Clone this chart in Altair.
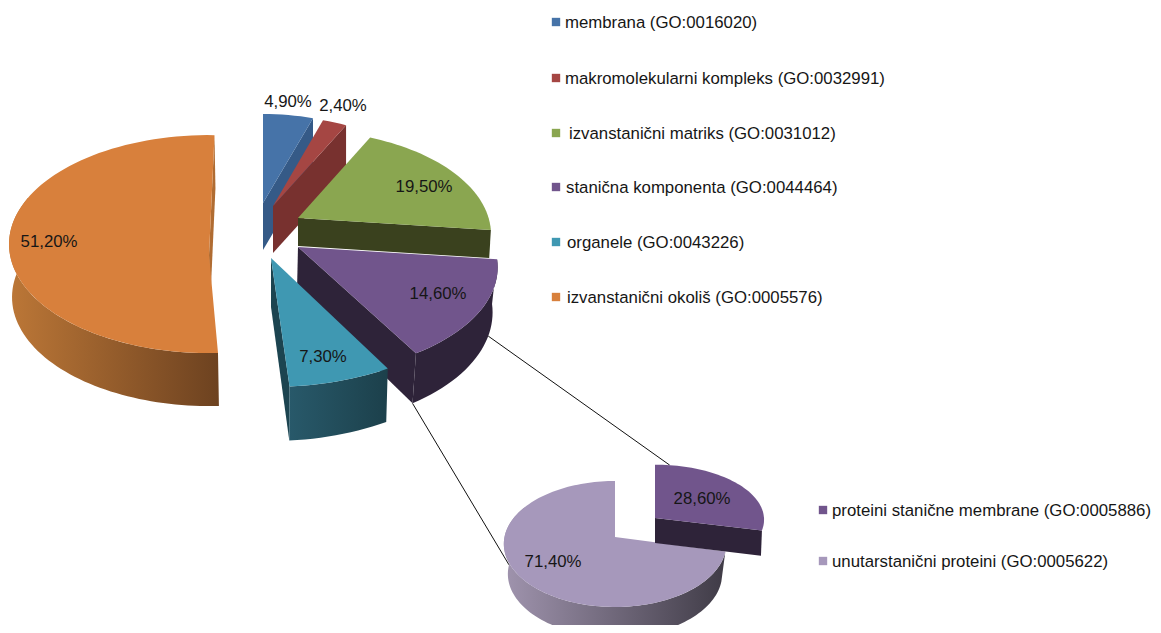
import math
import altair as alt

# ---- data
main_categories = ["membrana (GO:0016020)", "makromolekularni kompleks (GO:0032991)",
                   "izvanstanični matriks (GO:0031012)", "stanična komponenta (GO:0044464)",
                   "organele (GO:0043226)", "izvanstanični okoliš (GO:0005576)"]
main_values = [4.9, 2.4, 19.5, 14.6, 7.3, 51.2]
main_labels = ["4,90%", "2,40%", "19,50%", "14,60%", "7,30%", "51,20%"]
sub_categories = ["proteini stanične membrane (GO:0005886)", "unutarstanični proteini (GO:0005622)"]
sub_values = [28.6, 71.4]
sub_labels = ["28,60%", "71,40%"]

# ---- styles
top_colors = ["#4673a8", "#a54643", "#8aa650", "#71558c", "#3f98b2", "#d8803c"]
face_colors = ["#355a87", "#78312f", "#3a411e", "#2e2339", "#1c4450", "#b06c32"]
wall_colors = [None, None, None, ("#2e2339", "#2e2339"), ("#28596a", "#1c404b"), ("#bc7737", "#6d4220")]
sub_top = ["#71558c", "#a698bb"]
sub_face = ["#2e2339", None]
sub_wall = [None, ("#a094ae", "#3f3b46")]

# ---- 3D layout: apex x, apex y, x radius, y radius, perspective
main_geo = [
    ((263, 203, 165, 89, 0), (263, 250, 165, 89, 0)),
    ((273, 206, 165, 90, 0), (273, 253, 165, 90, 0)),
    ((298, 218, 190.6, 105, .162), (298, 246, 189, 105, .162)),
    ((298, 247, 196, 106, .198), (297, 291, 192, 112, .198)),
    ((271, 258, 227, 129, 0), (271, 307, 224, 134, 0)),
    ((209, 255, 199, 109, -.1), (210, 308, 197, 109, -.1)),
]
main_turn = [0, 0, 0, 0, 0, 1.8]
sub_geo = [
    ((655, 518, 109, 55, .03), (655, 543, 108, 56, .03)),
    ((615, 537, 110.5, 63, .111), (615, 567, 106.5, 63, .111)),
]
sub_turn = [0, 0]
WALL_LIMIT = 300
main_label_xy = [(288, 102), (343, 106), (424, 187), (438, 294), (323, 357), (49, 242)]
sub_label_xy = [(702, 499), (553, 562)]
main_legend_xy = [(556, 22, 565), (556, 78, 565), (556, 133, 569), (556, 187, 566), (556, 242, 567), (556, 297, 567)]
sub_legend_xy = [(823, 510, 832), (823, 561, 832)]
FONT = "Liberation Sans"
FS = 16.8

proj_kw = dict(type="identity", scale=1, translate=[-8, -8])


def pt(g, deg):
    ax, ay, rx, ry, k = g
    t = math.radians(deg)
    f = 1 - k * math.cos(t)
    return [ax + rx * f * math.sin(t), ay - ry * f * math.cos(t)]


def arc(g, a0, a1):
    n = max(2, int(abs(a1 - a0) / 2))
    return [pt(g, a0 + (a1 - a0) * i / n) for i in range(n + 1)]


def shape(ring, **style):
    ring = ring + [ring[0]]
    feat = {"type": "Feature", "properties": {}, "geometry": {"type": "Polygon", "coordinates": [ring]}}
    return alt.Chart(alt.Data(values=[feat])).mark_geoshape(strokeWidth=0, **style).project(**proj_kw)


def gradient(pair):
    return alt.LinearGradient(gradient="linear", x1=0, x2=1, y1=0, y2=0,
                              stops=[alt.GradientStop(color=pair[0], offset=0),
                                     alt.GradientStop(color=pair[1], offset=1)])


def slices(values, geos, turns, tops, faces, walls):
    out, angle = [], 0.0
    for v, (gt, gb), turn, top, face, wall in zip(values, geos, turns, tops, faces, walls):
        a0, a1 = angle + turn, angle + v * 3.6 + turn
        angle += v * 3.6
        layers = []
        if face:
            layers.append(shape([list(gt[:2]), pt(gt, a1), pt(gb, a1), list(gb[:2])], fill=face))
        if wall:
            end = min(a1, WALL_LIMIT)
            layers.append(shape(arc(gt, a0, end) + arc(gb, end, a0), fill=gradient(wall)))
        layers.append(shape([list(gt[:2])] + arc(gt, a0, a1), fill=top))
        out.append(layers)
    return out


main = slices(main_values, main_geo, main_turn, top_colors, face_colors, wall_colors)
sub = slices(sub_values, sub_geo, sub_turn, sub_top, sub_face, sub_wall)


def connector(p, q):
    feat = {"type": "Feature", "properties": {}, "geometry": {"type": "LineString", "coordinates": [p, q]}}
    return alt.Chart(alt.Data(values=[feat])).mark_geoshape(filled=False, stroke="#111111", strokeWidth=1).project(**proj_kw)


purple_end = sum(main_values[:4]) * 3.6
c1 = connector(pt(main_geo[3][1], 112), pt(sub_geo[0][0], 8))
c2 = connector(pt(main_geo[3][1], purple_end), pt(sub_geo[1][1], 272))

text_rows = [dict(x=p[0], y=p[1], t=t) for p, t in zip(main_label_xy + sub_label_xy, main_labels + sub_labels)]
pct = alt.Chart(alt.Data(values=text_rows)).mark_text(font=FONT, fontSize=FS, color="#161616").encode(
    longitude="x:Q", latitude="y:Q", text="t:N").project(**proj_kw)

legend_rows = [dict(sx=p[0], y=p[1], ty=p[1] + 1, tx=p[2], t=t, c=c) for p, t, c in
               zip(main_legend_xy + sub_legend_xy, main_categories + sub_categories, top_colors + sub_top)]
leg_txt = alt.Chart(alt.Data(values=legend_rows)).mark_text(font=FONT, fontSize=FS, color="#161616", align="left").encode(
    longitude="tx:Q", latitude="ty:Q", text="t:N").project(**proj_kw)
leg_sq = alt.Chart(alt.Data(values=legend_rows)).mark_point(shape="square", filled=True, size=70, opacity=1).encode(
    longitude="sx:Q", latitude="y:Q", color=alt.Color("c:N", scale=None)).project(**proj_kw)

layers = []
for i in [5, 0, 1, 2, 3, 4]:
    layers += main[i]
layers += [c1, c2]
layers += sub[1] + sub[0]
layers += [pct, leg_sq, leg_txt]

chart = alt.layer(*layers).properties(
    width=1145, height=617, padding=0,
    autosize=alt.AutoSizeParams(type="none"),
).configure_view(stroke=None)

chart.save("out.html", embed_options={"renderer": "svg", "actions": False})
